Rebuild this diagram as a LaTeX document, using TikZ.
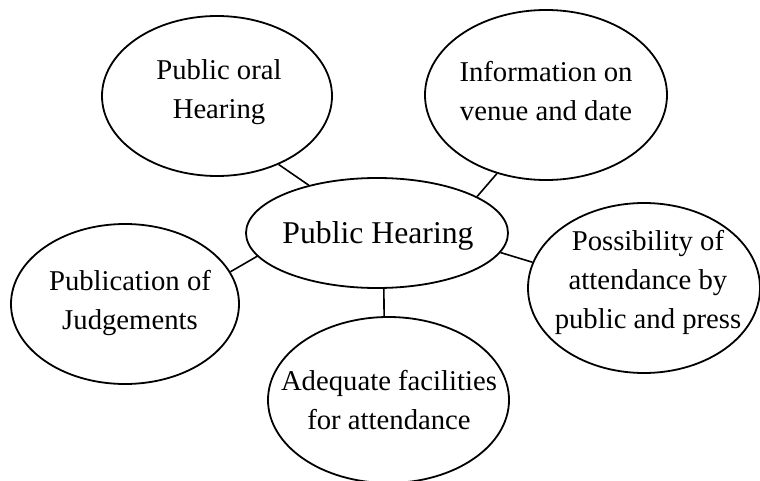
\documentclass[tikz,border=0pt]{standalone}
\usepackage{fontspec}
\setmainfont{Liberation Serif}
\usetikzlibrary{shapes.geometric}
\tikzset{
  bubble/.style={ellipse, draw, line width=1.8pt, inner sep=0pt},
  txt/.style={align=center, font=\fontsize{28.7}{39}\selectfont, inner sep=0pt},
  hubtxt/.style={font=\fontsize{31.7}{38}\selectfont, inner sep=0pt},
  link/.style={line width=1.6pt}
}
\begin{document}
\begin{tikzpicture}[x=1pt,y=-1pt]
\useasboundingbox (0,0) rectangle (760,481);
% ellipses
\node[bubble, minimum width=262pt, minimum height=110pt] (hub) at (377,233) {};
\node[bubble, minimum width=230pt, minimum height=160pt] (oral) at (217,96) {};
\node[bubble, minimum width=242pt, minimum height=170pt] (info) at (546,95) {};
\node[bubble, minimum width=228pt, minimum height=160pt] (pub) at (125,304) {};
\node[bubble, minimum width=232pt, minimum height=170pt] (poss) at (644,288) {};
\node[bubble, minimum width=241pt, minimum height=166pt] (adeq) at (388.5,400) {};
% texts
\node[hubtxt] (hubt) at (378,235.6) {Public Hearing};
\node[txt] (oralt) at (219,91.8) {Public oral\\Hearing};
\node[txt] (infot) at (546,91) {Information on\\venue and date};
\node[txt] (pubt) at (130,303.3) {Publication of\\Judgements};
\node[txt] (posst) at (648,282) {Possibility of\\attendance by\\public and press};
\node[txt] (adeqt) at (389,400) {Adequate facilities\\for attendance};
% connectors
\draw[link] (oral.-48.1) -- (hub.145.9);
\draw[link] (info.238.7) -- (hub.20.8);
\draw[link] (pub.17.9) -- (hub.191.4);
\draw[link] (poss.167.2) -- (hub.-9.1);
\draw[link] (adeq.93.8) -- (hub.-83.8);
\end{tikzpicture}
\end{document}
